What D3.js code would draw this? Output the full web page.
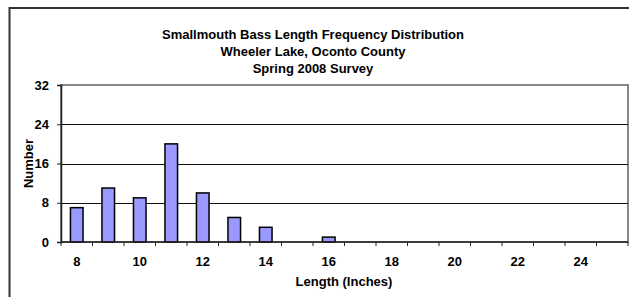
<!DOCTYPE html>
<html>
<head>
<meta charset="utf-8">
<script src="https://cdn.jsdelivr.net/npm/d3@7"></script>
<style>
body { margin: 0; background: #fff; }
svg { display: block; font-family: "Liberation Sans", Arial, sans-serif; }
</style>
</head>
<body>
<div id="chart"></div>
<script>
// data
let lengths = [8, 9, 10, 11, 12, 13, 14, 15, 16, 17, 18, 19, 20, 21, 22, 23, 24, 25];
let counts = [7, 11, 9, 20, 10, 5, 3, 0, 1, 0, 0, 0, 0, 0, 0, 0, 0, 0];
let yTicks = [0, 8, 16, 24, 32];
let titleLines = ["Smallmouth Bass Length Frequency Distribution", "Wheeler Lake, Oconto County", "Spring 2008 Survey"];

let width = 629;
let height = 297;
let plot = {left: 61, right: 628, top: 85, bottom: 242};
let fontSize = "13px";

let svg = d3.select("#chart")
	.append("svg")
	.attr("width", width)
	.attr("height", height);

// outer chart frame (runs off the right and bottom edge)
svg.append("rect")
	.attr("x", 9.5)
	.attr("y", 8)
	.attr("width", 640)
	.attr("height", 310)
	.attr("fill", "#fff")
	.attr("stroke", "#333")
	.attr("stroke-width", 2);

let x = d3.scaleBand()
	.domain(lengths)
	.range([plot.left, plot.right])
	.paddingInner(0.6)
	.paddingOuter(0.3);

let y = d3.scaleLinear()
	.domain([0, 32])
	.range([plot.bottom, plot.top]);

// plot area border
svg.append("rect")
	.attr("x", plot.left)
	.attr("y", plot.top)
	.attr("width", plot.right - plot.left)
	.attr("height", plot.bottom - plot.top)
	.attr("fill", "none")
	.attr("stroke", "#888")
	.attr("stroke-width", 2);

// gridlines
svg.append("g")
	.selectAll("line")
	.data(yTicks.filter(d => d > 0 && d < 32))
	.enter().append("line")
	.attr("x1", plot.left)
	.attr("x2", plot.right)
	.attr("y1", d => Math.round(y(d)) + 0.5)
	.attr("y2", d => Math.round(y(d)) + 0.5)
	.attr("stroke", "#111")
	.attr("stroke-width", 1);

// bars
svg.append("g")
	.selectAll("rect")
	.data(lengths.map((d, i) => ({len: d, n: counts[i]})).filter(d => d.n > 0))
	.enter().append("rect")
	.attr("x", d => x(d.len))
	.attr("y", d => y(d.n))
	.attr("width", x.bandwidth())
	.attr("height", d => y(0) - y(d.n))
	.attr("fill", "#9999ff")
	.attr("stroke", "#000")
	.attr("stroke-width", 1.5);

// y axis
let yAxis = svg.append("g")
	.attr("transform", "translate(" + plot.left + ",0)")
	.call(d3.axisLeft(y).tickValues(yTicks).tickSize(4).tickPadding(8));
yAxis.select(".domain").attr("stroke", "#222").attr("stroke-width", 1.5);
yAxis.selectAll(".tick line").attr("stroke", "#222");
yAxis.selectAll("text")
	.style("font-size", fontSize)
	.style("font-weight", "bold")
	.attr("fill", "#000");

// x axis: tick marks on category boundaries, labels every second category
let xAxisG = svg.append("g")
	.attr("transform", "translate(0," + plot.bottom + ")");
xAxisG.append("line")
	.attr("x1", plot.left)
	.attr("x2", plot.right)
	.attr("stroke", "#222")
	.attr("stroke-width", 1.5);
xAxisG.selectAll(".tk")
	.data(d3.range(lengths.length + 1))
	.enter().append("line")
	.attr("class", "tk")
	.attr("x1", i => plot.left + i * (plot.right - plot.left) / lengths.length)
	.attr("x2", i => plot.left + i * (plot.right - plot.left) / lengths.length)
	.attr("y1", 0)
	.attr("y2", 4)
	.attr("stroke", "#222");
xAxisG.selectAll("text")
	.data(lengths.filter(d => d % 2 == 0))
	.enter().append("text")
	.attr("x", d => x(d) + x.bandwidth() / 2)
	.attr("y", 24)
	.attr("text-anchor", "middle")
	.style("font-size", fontSize)
	.style("font-weight", "bold")
	.text(d => d);

// titles
svg.append("g")
	.selectAll("text")
	.data(titleLines)
	.enter().append("text")
	.attr("x", 313)
	.attr("y", (d, i) => 39 + i * 17)
	.attr("text-anchor", "middle")
	.style("font-size", fontSize)
	.style("font-weight", "bold")
	.text(d => d);

svg.append("text")
	.attr("transform", "translate(28," + (plot.top + plot.bottom) / 2 + ") rotate(-90)")
	.attr("text-anchor", "middle")
	.attr("dominant-baseline", "central")
	.style("font-size", fontSize)
	.style("font-weight", "bold")
	.text("Number");

svg.append("text")
	.attr("x", 344)
	.attr("y", 286)
	.attr("text-anchor", "middle")
	.style("font-size", fontSize)
	.style("font-weight", "bold")
	.text("Length (Inches)");
</script>
</body>
</html>
